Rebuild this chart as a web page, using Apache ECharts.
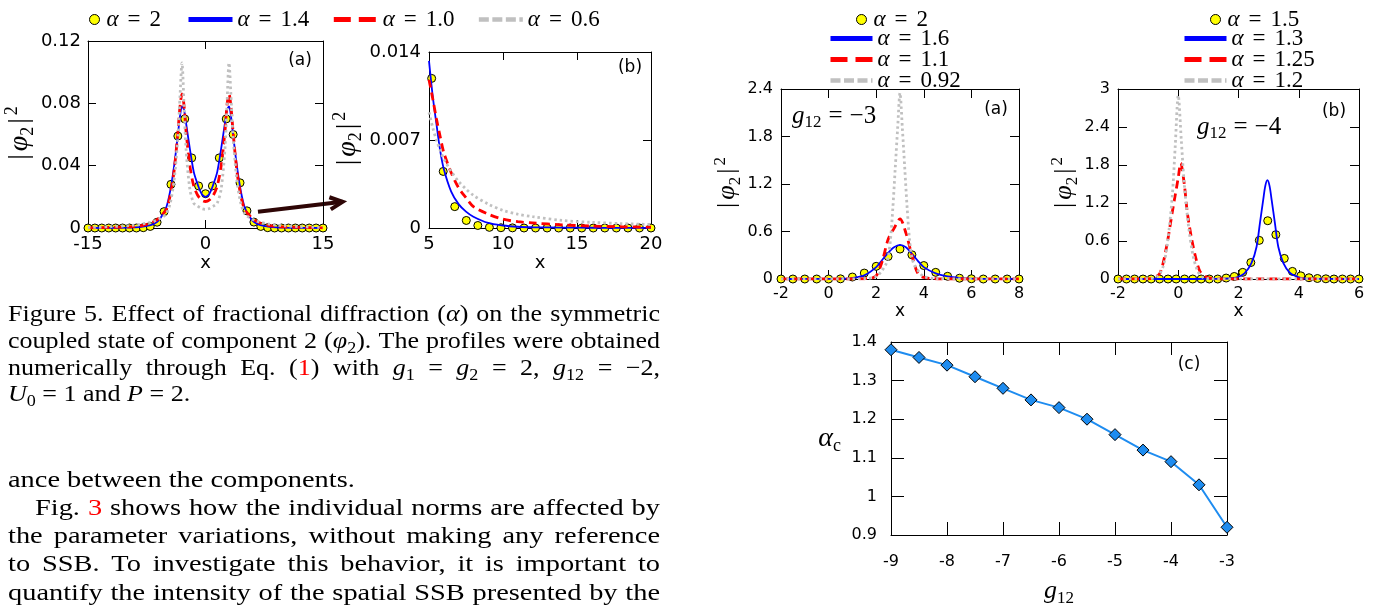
<!DOCTYPE html>
<html>
<head>
<meta charset="utf-8">
<script src="https://cdn.jsdelivr.net/npm/echarts@6/dist/echarts.min.js"></script>
<style>
  html, body { margin: 0; padding: 0; background: #fff; }
  #chart { width: 1385px; height: 608px; }
</style>
</head>
<body>
<div id="chart"></div>
<script>
// ---------------- data ----------------
// Fig. 5(a): |phi2|^2 profiles, g12 = -2
const xCurveA = [-15,-12,-10,-9,-8,-7,-6.5,-6,-5.5,-5,-4.5,-4,-3.5,-3.25,-3,-2.75,-2.5,-2,-1.5,-1,-0.5,0,
                 0.5,1,1.5,2,2.5,2.75,3,3.25,3.5,4,4.5,5,5.5,6,6.5,7,8,9,10,12,15];
const alpha14A = [0.00001,0.00006,0.0002,0.0004,0.0009,0.0019,0.0029,0.0047,0.0083,0.0133,0.024,0.040,0.061,0.072,0.078,0.076,0.068,0.051,0.036,0.028,0.022,0.020,
                  0.022,0.028,0.036,0.051,0.068,0.076,0.078,0.072,0.061,0.040,0.024,0.0133,0.0083,0.0047,0.0029,0.0019,0.0009,0.0004,0.0002,0.00006,0.00001];
const alpha10A = [0.00007,0.0004,0.0007,0.0011,0.0017,0.0032,0.0044,0.0060,0.0087,0.0118,0.021,0.037,0.063,0.078,0.086,0.079,0.063,0.040,0.027,0.021,0.018,0.017,
                  0.018,0.021,0.027,0.040,0.063,0.079,0.086,0.078,0.063,0.037,0.021,0.0118,0.0087,0.0060,0.0044,0.0032,0.0017,0.0011,0.0007,0.0004,0.00007];
const alpha06A = [0.00028,0.0009,0.0014,0.0019,0.0026,0.0037,0.0045,0.0055,0.0070,0.0092,0.016,0.031,0.060,0.085,0.106,0.080,0.052,0.025,0.016,0.014,0.0125,0.012,
                  0.0125,0.014,0.016,0.025,0.052,0.080,0.106,0.085,0.060,0.031,0.016,0.0092,0.0070,0.0055,0.0045,0.0037,0.0026,0.0019,0.0014,0.0009,0.00028];
const xDotsA = [-15,-14.12,-13.24,-12.35,-11.47,-10.59,-9.71,-8.82,-7.94,-7.06,-6.18,-5.29,-4.41,-3.53,-2.65,-1.76,-0.88,0,
                0.88,1.76,2.65,3.53,4.41,5.29,6.18,7.06,7.94,8.82,9.71,10.59,11.47,12.35,13.24,14.12,15];
const alpha2A = [0,0,0,0,0,0,0,0,0.0002,0.001,0.0037,0.0105,0.028,0.059,0.070,0.045,0.027,0.022,
                 0.027,0.045,0.070,0.060,0.029,0.011,0.0038,0.001,0.0002,0,0,0,0,0,0,0,0];

// Fig. 5(b): tail of the same profiles
const xCurveB = [5,5.25,5.5,5.75,6,6.5,7,7.5,8,9,10,11,12,14,16,18,20];
const alpha14B = [0.0133,0.0105,0.0083,0.0062,0.0047,0.0029,0.0019,0.0013,0.0009,0.0004,0.0002,0.0001,0.00006,0.00003,0.00002,0.00001,0.00001];
const alpha10B = [0.0118,0.0103,0.0087,0.0073,0.0060,0.0044,0.0032,0.0024,0.0017,0.0011,0.0007,0.0005,0.0004,0.00025,0.00015,0.0001,0.00007];
const alpha06B = [0.0092,0.0080,0.0070,0.0062,0.0055,0.0045,0.0037,0.0031,0.0026,0.0019,0.0014,0.0011,0.0009,0.0006,0.00045,0.00035,0.00028];
const xDotsB = [5.18,5.96,6.74,7.52,8.3,9.08,9.86,10.64,11.42,12.2,12.98,13.76,14.54,15.32,16.1,16.88,17.66,18.44,19.22,20];
const alpha2B = [0.0119,0.0045,0.0017,0.0006,0.0002,0.00005,0.00002,0.00001,0,0,0,0,0,0,0,0,0,0,0,0];

// right (a): g12 = -3
const xDots3 = [-2,-1.5,-1,-0.5,0,0.5,1,1.5,2,2.5,3,3.5,4,4.5,5,5.5,6,6.5,7,7.5,8];
const alpha2G3 = [0,0,0,0,0,0.002,0.025,0.075,0.16,0.285,0.378,0.306,0.17,0.084,0.034,0.01,0.003,0,0,0,0];
const x16 = [-2,-1,0,0.5,1,1.5,2,2.25,2.5,2.75,3,3.25,3.5,3.75,4,4.5,5,5.5,6,7,8];
const alpha16 = [0,0.0005,0.002,0.005,0.012,0.045,0.15,0.24,0.33,0.40,0.43,0.40,0.32,0.23,0.15,0.07,0.032,0.014,0.006,0.002,0.001];
const x11 = [-2,0,1,1.5,1.8,2,2.25,2.5,2.75,3,3.25,3.5,3.75,4,4.5,5,6,8];
const alpha11 = [0,0,0,0.003,0.01,0.04,0.22,0.50,0.64,0.76,0.58,0.30,0.07,0.02,0.003,0,0,0];
const x092 = [-2,1,1.5,2,2.2,2.4,2.5,2.6,2.7,2.8,2.9,3,3.1,3.2,3.3,3.4,3.5,3.6,3.8,4,4.5,8];
const alpha092 = [0,0,0.005,0.03,0.09,0.18,0.27,0.5,0.9,1.4,1.9,2.35,1.9,1.4,0.9,0.5,0.27,0.18,0.09,0.03,0.005,0];

// right (b): g12 = -4
const xDots4 = [-2,-1.72,-1.45,-1.17,-0.9,-0.62,-0.34,-0.07,0.21,0.48,0.76,1.03,1.31,1.59,1.86,2.14,2.41,2.69,2.97,3.24,
                3.52,3.79,4.07,4.34,4.62,4.9,5.17,5.45,5.72,6];
const alpha15G4 = [0,0,0,0,0,0,0,0,0,0,0,0,0,0.015,0.04,0.105,0.26,0.61,0.92,0.70,0.325,0.12,0.05,0.02,0.008,0.003,0,0,0,0];
const x13 = [-2,0,1,1.5,1.8,2,2.2,2.43,2.6,2.71,2.82,2.89,2.96,3.03,3.1,3.21,3.32,3.49,3.7,3.9,4.1,4.4,5,6];
const alpha13 = [0,0,0.001,0.004,0.014,0.035,0.09,0.25,0.51,0.88,1.25,1.47,1.56,1.47,1.25,0.88,0.51,0.25,0.10,0.045,0.015,0.004,0.001,0];
const x125 = [-2,-1,-0.8,-0.6,-0.4,-0.2,0,0.08,0.2,0.3,0.45,0.6,0.72,0.9,1.1,1.5,2,6];
const alpha125 = [0,0.002,0.02,0.10,0.48,1.05,1.6,1.83,1.5,1.05,0.62,0.3,0.12,0.04,0.01,0,0,0];
const x12 = [-2,-1,-0.7,-0.5,-0.35,-0.2,-0.1,0,0.1,0.2,0.35,0.5,0.65,0.8,1,2,6];
const alpha12 = [0,0.005,0.04,0.2,0.6,1.3,2.1,2.9,2.2,1.5,0.8,0.35,0.12,0.03,0.005,0,0];

// (c): critical alpha versus g12
const g12Values = [-9,-8.5,-8,-7.5,-7,-6.5,-6,-5.5,-5,-4.5,-4,-3.5,-3];
const alphaCrit = [1.38,1.36,1.34,1.31,1.28,1.25,1.23,1.20,1.16,1.12,1.09,1.03,0.92];

// ---------------- styling ----------------
const SANS = '"DejaVu Sans", sans-serif';
const SERIF = '"Liberation Serif", "Times New Roman", serif';
const BLUE = '#0000ff', RED = '#ff0000', GRAY = '#c0c0c0', YELLOW = '#ffff00';

const zip = (xs, ys) => xs.map((x, i) => [x, ys[i]]);

const grids = [
  { left: 88,   top: 41,  width: 235, height: 187 },   // 5(a)
  { left: 429,  top: 52,  width: 222, height: 176 },   // 5(b)
  { left: 781,  top: 89,  width: 238, height: 190 },   // g12=-3
  { left: 1118, top: 89,  width: 241, height: 190 },   // g12=-4
  { left: 891,  top: 342, width: 336, height: 204 }    // critical alpha
];

const phiName = '{b||}{i|φ}{s|2}{b||}{p|2}';
function mathRich(sz, barPad) {
  const small = Math.round(sz * 0.66);
  const pad = barPad || 0;
  return {
    b: { fontFamily: SERIF, fontSize: sz, lineHeight: sz + 6, color: '#000', padding: [0, pad, 0, pad] },
    n: { fontFamily: SERIF, fontSize: sz, lineHeight: sz + 6, color: '#000' },
    e: { fontFamily: SERIF, fontSize: sz, lineHeight: sz + 6, color: '#000', padding: [0, Math.round(sz * 0.28), 0, Math.round(sz * 0.28)] },
    i: { fontFamily: SERIF, fontStyle: 'italic', fontSize: sz, lineHeight: sz + 6, color: '#000' },
    s: { fontFamily: SERIF, fontSize: small, lineHeight: small, verticalAlign: 'bottom', color: '#000' },
    p: { fontFamily: SERIF, fontSize: small, lineHeight: small, verticalAlign: 'top', color: '#000' }
  };
}

const xAxes = [], yAxes = [];
function addAxes(gi, c) {
  const line = { show: true, onZero: false, lineStyle: { color: '#000', width: 1 } };
  const tick = { show: true, inside: true, length: c.tick, lineStyle: { color: '#000', width: 1 } };
  const lab = m => ({ color: '#000', fontFamily: SANS, fontSize: c.fs, margin: m });
  xAxes.push({ type: 'value', gridIndex: gi, position: 'bottom', min: c.x[0], max: c.x[1], interval: c.x[2],
    axisLine: line, axisTick: tick, axisLabel: lab(c.xm), splitLine: { show: false },
    name: c.xName, nameLocation: 'middle', nameGap: c.xGap, nameTextStyle: c.xNameStyle });
  xAxes.push({ type: 'value', gridIndex: gi, position: 'top', min: c.x[0], max: c.x[1], interval: c.x[2],
    axisLine: line, axisTick: tick, axisLabel: { show: false }, splitLine: { show: false } });
  yAxes.push({ type: 'value', gridIndex: gi, position: 'left', min: c.y[0], max: c.y[1], interval: c.y[2],
    axisLine: line, axisTick: tick, axisLabel: lab(c.ym), splitLine: { show: false },
    name: c.yName, nameLocation: 'middle', nameGap: c.yGap, nameRotate: c.yRot, nameTextStyle: c.yNameStyle });
  yAxes.push({ type: 'value', gridIndex: gi, position: 'right', min: c.y[0], max: c.y[1], interval: c.y[2],
    axisLine: line, axisTick: tick, axisLabel: { show: false }, splitLine: { show: false } });
}

const xNameSans = sz => ({ color: '#000', fontFamily: SANS, fontSize: sz });
const phiStyle = sz => ({ color: '#000', fontFamily: SERIF, fontSize: sz, rich: mathRich(sz, 3) });

addAxes(0, { x: [-15, 15, 15], y: [0, 0.12, 0.04], tick: 8, fs: 18, xm: 7, ym: 7,
  xName: 'x', xGap: 22, xNameStyle: xNameSans(18), yName: phiName, yGap: 50, yRot: 90, yNameStyle: phiStyle(28) });
addAxes(1, { x: [5, 20, 5], y: [0, 0.014, 0.007], tick: 8, fs: 18, xm: 7, ym: 8,
  xName: 'x', xGap: 22, xNameStyle: xNameSans(18), yName: phiName, yGap: 64, yRot: 90, yNameStyle: phiStyle(28) });
addAxes(2, { x: [-2, 8, 2], y: [0, 2.4, 0.6], tick: 9, fs: 16, xm: 7, ym: 8,
  xName: 'x', xGap: 20, xNameStyle: xNameSans(17), yName: phiName, yGap: 32, yRot: 90, yNameStyle: phiStyle(26) });
addAxes(3, { x: [-2, 6, 2], y: [0, 3, 0.6], tick: 9, fs: 16, xm: 7, ym: 8,
  xName: 'x', xGap: 20, xNameStyle: xNameSans(17), yName: phiName, yGap: 36, yRot: 90, yNameStyle: phiStyle(26) });
addAxes(4, { x: [-9, -3, 1], y: [0.9, 1.4, 0.1], tick: 13, fs: 16, xm: 19, ym: 14,
  xName: '{i|g}{s|12}', xGap: 40, xNameStyle: { color: '#000', fontFamily: SERIF, fontSize: 26, rich: mathRich(26) },
  yName: '{i|α}{s|c}', yGap: 50, yRot: 0, yNameStyle: { color: '#000', fontFamily: SERIF, fontSize: 28, rich: mathRich(28) } });

// ---------------- series ----------------
function dots(name, gi, xs, ys, size) {
  return { type: 'scatter', name, xAxisIndex: 2 * gi, yAxisIndex: 2 * gi, data: zip(xs, ys),
    symbol: 'circle', symbolSize: size, silent: true,
    itemStyle: { color: YELLOW, borderColor: '#000', borderWidth: 1, opacity: 1 } };
}
function curve(name, gi, xs, ys, color, width, type) {
  return { type: 'line', name, xAxisIndex: 2 * gi, yAxisIndex: 2 * gi, data: zip(xs, ys),
    symbol: 'none', showSymbol: false, smooth: 0.3, silent: true, clip: true,
    itemStyle: { color }, lineStyle: { color, width, type } };
}

const series = [
  dots('α = 2', 0, xDotsA, alpha2A, 8),
  curve('α = 1.4', 0, xCurveA, alpha14A, BLUE, 1.8, 'solid'),
  curve('α = 1.0', 0, xCurveA, alpha10A, RED, 2.8, [8, 5]),
  curve('α = 0.6', 0, xCurveA, alpha06A, GRAY, 2.8, [2.5, 3]),

  dots('α = 2', 1, xDotsB, alpha2B, 8),
  curve('α = 1.4', 1, xCurveB, alpha14B, BLUE, 1.8, 'solid'),
  curve('α = 1.0', 1, xCurveB, alpha10B, RED, 2.8, [8, 5]),
  curve('α = 0.6', 1, xCurveB, alpha06B, GRAY, 2.8, [2.5, 3]),

  dots('α = 2', 2, xDots3, alpha2G3, 8),
  curve('α = 1.6', 2, x16, alpha16, BLUE, 1.8, 'solid'),
  curve('α = 1.1', 2, x11, alpha11, RED, 2.8, [8, 5]),
  curve('α = 0.92', 2, x092, alpha092, GRAY, 2.8, [2.5, 3]),

  dots('α = 1.5', 3, xDots4, alpha15G4, 8),
  curve('α = 1.3', 3, x13, alpha13, BLUE, 1.8, 'solid'),
  curve('α = 1.25', 3, x125, alpha125, RED, 2.8, [8, 5]),
  curve('α = 1.2', 3, x12, alpha12, GRAY, 2.8, [2.5, 3]),

  { type: 'line', name: 'alpha_c', xAxisIndex: 8, yAxisIndex: 8, data: zip(g12Values, alphaCrit),
    symbol: 'diamond', symbolSize: 12, showSymbol: true, silent: true,
    lineStyle: { color: '#1e8cf0', width: 2 },
    itemStyle: { color: '#1e8cf0', borderColor: '#000', borderWidth: 1 } }
];

// ---------------- legends ----------------
const legendRich = {
  i: { fontFamily: SERIF, fontStyle: 'italic', fontSize: 23, lineHeight: 20, color: '#000' },
  e: { fontFamily: SERIF, fontSize: 23, lineHeight: 20, color: '#000', padding: [0, 9, 0, 9] },
  n: { fontFamily: SERIF, fontSize: 23, lineHeight: 20, color: '#000' }
};
const legendFmt = name => '{i|α}{e|=}{n|' + name.split('= ')[1] + '}';
function dotLegend(id, name, left, top) {
  return { id, left, top, padding: 0, orient: 'horizontal', selectedMode: false,
    itemWidth: 14, itemHeight: 10, formatter: legendFmt, textStyle: { rich: legendRich },
    itemStyle: { borderWidth: 1 }, data: [{ name }] };
}
function lineLegend(id, names, left, top, orient, gap, width) {
  const dash = { 0: 'solid', 1: [17, 8], 2: [10, 3.5] };
  return { id, left, top, padding: 0, orient, selectedMode: false, itemGap: gap,
    itemWidth: width, itemHeight: 10, formatter: legendFmt, textStyle: { rich: legendRich },
    itemStyle: { opacity: 0 },
    data: names.map((name, k) => ({ name, lineStyle: { width: k === 2 ? 4.5 : 5, type: dash[k] } })) };
}
const legends = [
  dotLegend('l0', 'α = 2', 89, 8),
  lineLegend('l1', ['α = 1.4', 'α = 1.0', 'α = 0.6'], 186, 8, 'horizontal', 22, 44),
  dotLegend('l2', 'α = 2', 856, 8),
  lineLegend('l3', ['α = 1.6', 'α = 1.1', 'α = 0.92'], 828, 27, 'vertical', -2, 42),
  dotLegend('l4', 'α = 1.5', 1210, 8),
  lineLegend('l5', ['α = 1.3', 'α = 1.25', 'α = 1.2'], 1182, 27, 'vertical', -2, 42)
];

const chart = echarts.init(document.getElementById('chart'), null, { renderer: 'canvas' });
chart.setOption({
  backgroundColor: '#ffffff',
  animation: false,
  textStyle: { fontFamily: SANS },
  grid: grids.map(g => Object.assign({ containLabel: false }, g)),
  xAxis: xAxes,
  yAxis: yAxes,
  legend: legends,
  series
});

// ---------------- text and annotations ----------------
const graphics = [];
const label = (text, x, y, size) => graphics.push({ type: 'text', x, y, silent: true,
  style: { text, font: size + 'px ' + SANS, fill: '#000', align: 'center', verticalAlign: 'middle',
           textAlign: 'center', textVerticalAlign: 'middle' } });
label('(a)', 300, 61, 17);
label('(b)', 630, 68, 17);
label('(a)', 996, 110, 17);
label('(b)', 1334, 112, 17);
label('(c)', 1189, 365, 17);

const gRich = mathRich(25);
const couplingLabel = (value, x, y) => graphics.push({ type: 'text', x, y, silent: true,
  style: { text: '{i|g}{s|12}{e|=}{n|' + value + '}', rich: gRich, fill: '#000',
           align: 'left', verticalAlign: 'middle', textAlign: 'left', textVerticalAlign: 'middle' } });
couplingLabel('−3', 792, 116);
couplingLabel('−4', 1197, 127);

// arrow from the tail of 5(a) toward 5(b)
const pA = chart.convertToPixel({ xAxisIndex: 0, yAxisIndex: 0 }, [6.7, 0.0104]);
const pB = chart.convertToPixel({ xAxisIndex: 0, yAxisIndex: 0 }, [17.5, 0.0168]);
(function () {
  const dx = pB[0] - pA[0], dy = pB[1] - pA[1], len = Math.hypot(dx, dy);
  const ux = dx / len, uy = dy / len, h = 14, ang = 0.45;
  const rot = a => [pB[0] - h * (ux * Math.cos(a) - uy * Math.sin(a)), pB[1] - h * (uy * Math.cos(a) + ux * Math.sin(a))];
  const arrowStyle = { stroke: '#2e0606', lineWidth: 4, lineCap: 'butt', lineJoin: 'miter' };
  graphics.push({ type: 'line', silent: true, shape: { x1: pA[0], y1: pA[1], x2: pB[0], y2: pB[1] }, style: arrowStyle });
  graphics.push({ type: 'polyline', silent: true, shape: { points: [rot(ang), pB, rot(-ang)] }, style: arrowStyle });
})();

// caption and body text, justified between two margins; glyphs are widened
// horizontally so that the fullest line keeps ordinary word spacing
const measure = document.createElement('canvas').getContext('2d');
function runFont(kind, size) {
  const sub = kind === 's';
  const sz = sub ? Math.round(size * 0.7) : size;
  return { font: (kind === 'i' ? 'italic ' : '') + sz + 'px ' + SERIF,
           dy: sub ? Math.round(size * 0.3) : 0,
           fill: kind === 'r' ? '#ff0000' : '#000' };
}
function parseWord(word) {
  const runs = [], re = /\{(\w):([^}]*)\}|([^{]+)/g;
  let m;
  while ((m = re.exec(word))) runs.push(m[3] !== undefined ? ['n', m[3]] : [m[1], m[2]]);
  return runs;
}
function runWidth(kind, text, size) { measure.font = runFont(kind, size).font; return measure.measureText(text).width; }
function prepLine(l) {
  const words = l.src.split(' ').filter(Boolean).map(parseWord);
  const widths = words.map(r => r.reduce((a, [k, t]) => a + runWidth(k, t, l.size), 0));
  return Object.assign({ words, widths, total: widths.reduce((a, b) => a + b, 0), space: runWidth('n', ' ', l.size) }, l);
}
function paragraph(lines) {
  const prepared = lines.map(prepLine);
  let sc = 1.4;
  prepared.filter(l => l.justify).forEach(l => {
    sc = Math.min(sc, (l.x1 - l.x0) / (l.total + l.space * 1.1 * (l.words.length - 1)));
  });
  prepared.forEach(l => {
    let gap = l.space * sc;
    if (l.justify && l.words.length > 1) gap = (l.x1 - l.x0 - l.total * sc) / (l.words.length - 1);
    let x = l.x0;
    l.words.forEach((runs, wi) => {
      let rx = x;
      runs.forEach(([k, t]) => {
        const f = runFont(k, l.size);
        graphics.push({ type: 'text', x: rx, y: l.y + f.dy, scaleX: sc, silent: true,
          style: { text: t, font: f.font, fill: f.fill, align: 'left', verticalAlign: 'middle',
                   textAlign: 'left', textVerticalAlign: 'middle' } });
        rx += runWidth(k, t, l.size) * sc;
      });
      x += l.widths[wi] * sc + gap;
    });
  });
}
const L = 8, R = 660;
paragraph([
  { src: 'Figure 5.  Effect of fractional diffraction ({i:α}) on the symmetric', y: 315, x0: L, x1: R, size: 23, justify: true },
  { src: 'coupled state of component 2 ({i:φ}{s:2}). The profiles were obtained', y: 342, x0: L, x1: R, size: 23, justify: true },
  { src: 'numerically through Eq. ({r:1}) with {i:g}{s:1} = {i:g}{s:2} = 2, {i:g}{s:12} = −2,', y: 369, x0: L, x1: R, size: 23, justify: true },
  { src: '{i:U}{s:0} = 1 and {i:P} = 2.', y: 395, x0: L, x1: R, size: 23, justify: false }
]);
paragraph([
  { src: 'ance between the components.', y: 481, x0: L, x1: R, size: 24, justify: false },
  { src: 'Fig. {r:3} shows how the individual norms are affected by', y: 509, x0: 35, x1: R, size: 24, justify: true },
  { src: 'the parameter variations, without making any reference', y: 537, x0: L, x1: R, size: 24, justify: true },
  { src: 'to SSB. To investigate this behavior, it is important to', y: 565, x0: L, x1: R, size: 24, justify: true },
  { src: 'quantify the intensity of the spatial SSB presented by the', y: 594, x0: L, x1: R, size: 24, justify: true }
]);

chart.setOption({ graphic: graphics });
</script>
</body>
</html>
